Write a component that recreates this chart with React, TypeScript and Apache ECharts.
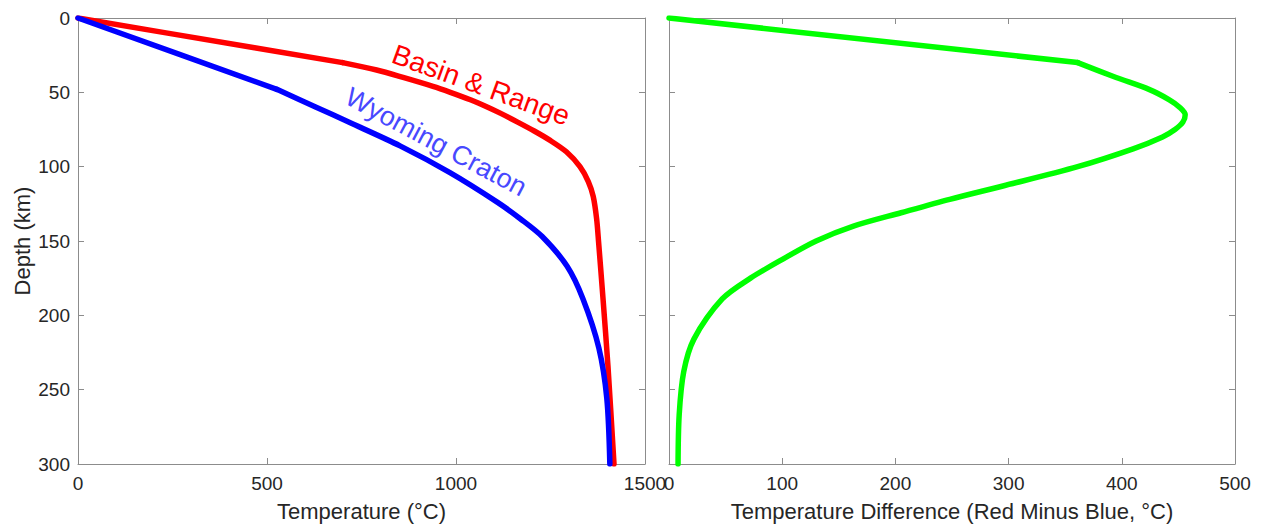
import React, { useEffect, useRef } from "react";
import * as echarts from "echarts";

// Basin & Range geotherm (red): depth (km), temperature (°C)
const redDepth = [0, 10, 20, 30, 35, 40, 46, 50, 55, 60, 64, 70, 76, 82, 90, 100, 110, 120, 135, 150, 189, 234, 300];
const redTemp = [0, 233, 467, 700, 790, 860, 939, 985, 1038, 1084, 1117, 1163, 1207, 1247, 1292, 1328, 1350, 1363, 1372, 1377, 1389, 1402, 1418];
const redKink = 30;

// Wyoming Craton geotherm (blue)
const blueDepth = [0, 24, 48, 60, 70, 86, 104, 124, 135, 147, 167, 189, 222, 256, 300];
const blueTemp = [0, 263, 526, 630, 716, 852, 984, 1110, 1170, 1228, 1294, 1336, 1378, 1399, 1407];
const blueKink = 48;

// Difference red minus blue (green)
const greenDepth = [0, 30, 40, 48, 55, 60, 65, 70, 75, 80, 88, 100, 113, 122, 131, 140, 150, 162, 175, 189, 216, 238, 267, 300];
const greenDiff = [0, 361, 395, 424, 442, 451, 456, 454, 447, 436, 410, 361, 295, 248, 205, 163, 130, 101, 72, 47, 22, 13, 9, 8];
const greenKink = 30;

const depthTicks = [0, 50, 100, 150, 200, 250, 300];
const tempTicks = [0, 500, 1000, 1500];
const diffTicks = [0, 100, 200, 300, 400, 500];

const FONT = "Liberation Sans, Arial, Helvetica, sans-serif";
const AXIS_COLOR = "#8c8c8c";
const TEXT_COLOR = "#262626";

function pairs(xs: number[], ys: number[]) {
  return xs.map((x, i) => [x, ys[i]]);
}

function segments(xs: number[], depths: number[], kink: number) {
  const k = depths.indexOf(kink);
  const all = pairs(xs, depths);
  return [all.slice(0, k + 1), all.slice(k)];
}

export default function App() {
  const ref = useRef<HTMLDivElement>(null);
  useEffect(() => {
    if (!ref.current) return;
    const chart = echarts.init(ref.current, undefined, { renderer: "svg" });

    const axisLine = { show: true, onZero: false, lineStyle: { color: AXIS_COLOR, width: 1 } };
    const axisTick = { show: true, inside: true, length: 6, lineStyle: { color: AXIS_COLOR } };
    const labelStyle = { color: TEXT_COLOR, fontSize: 19, fontFamily: FONT };
    const nameStyle = { color: TEXT_COLOR, fontSize: 22, fontFamily: FONT };

    const xAx = (grid: number, pos: "bottom" | "top", ticks: number[], showLabel: boolean, name?: string) => ({
      type: "value",
      gridIndex: grid,
      position: pos,
      min: ticks[0],
      max: ticks[ticks.length - 1],
      interval: ticks[1] - ticks[0],
      axisLine,
      axisTick,
      splitLine: { show: false },
      axisLabel: {
        show: showLabel,
        margin: 10,
        showMinLabel: true,
        showMaxLabel: true,
        formatter: (v: number) => String(v),
        ...labelStyle,
      },
      name: name || "",
      nameLocation: "middle",
      nameGap: 36,
      nameTextStyle: nameStyle,
    });
    const yAx = (grid: number, pos: "left" | "right", showLabel: boolean, name?: string) => ({
      type: "value",
      gridIndex: grid,
      position: pos,
      min: depthTicks[0],
      max: depthTicks[depthTicks.length - 1],
      interval: depthTicks[1] - depthTicks[0],
      inverse: true,
      axisLine,
      axisTick,
      splitLine: { show: false },
      axisLabel: {
        show: showLabel,
        margin: 8,
        showMinLabel: true,
        showMaxLabel: true,
        formatter: (v: number) => String(v),
        ...labelStyle,
      },
      name: name || "",
      nameLocation: "middle",
      nameRotate: 90,
      nameGap: 45,
      nameTextStyle: nameStyle,
    });

    const lineSeries = (data: number[][], color: string, xi: number, yi: number, smooth: boolean) => ({
      type: "line",
      xAxisIndex: xi,
      yAxisIndex: yi,
      data,
      showSymbol: false,
      smooth: smooth ? 0.3 : false,
      lineStyle: { color, width: 5.5, cap: "round", join: "round" },
      itemStyle: { color },
    });

    const [redA, redB] = segments(redTemp, redDepth, redKink);
    const [blueA, blueB] = segments(blueTemp, blueDepth, blueKink);
    const [greenA, greenB] = segments(greenDiff, greenDepth, greenKink);

    chart.setOption({
      animation: false,
      backgroundColor: "#ffffff",
      textStyle: { fontFamily: FONT },
      grid: [
        { left: 78, top: 18, width: 567, height: 448 },
        { left: 669, top: 18, width: 566, height: 448 },
      ],
      xAxis: [
        xAx(0, "bottom", tempTicks, true, "Temperature (°C)"),
        xAx(0, "top", tempTicks, false),
        xAx(1, "bottom", diffTicks, true, "Temperature Difference (Red Minus Blue, °C)"),
        xAx(1, "top", diffTicks, false),
      ],
      yAxis: [
        yAx(0, "left", true, "Depth (km)"),
        yAx(0, "right", false),
        yAx(1, "left", false),
        yAx(1, "right", false),
      ],
      series: [
        lineSeries(redA, "#ff0000", 0, 0, false),
        lineSeries(redB, "#ff0000", 0, 0, true),
        lineSeries(blueA, "#0000ff", 0, 0, false),
        lineSeries(blueB, "#0000ff", 0, 0, true),
        lineSeries(greenA, "#00ff00", 2, 2, false),
        lineSeries(greenB, "#00ff00", 2, 2, true),
      ],
      graphic: [
        {
          type: "text",
          x: 481,
          y: 85,
          rotation: (-20 * Math.PI) / 180,
          style: {
            text: "Basin & Range",
            x: 0,
            y: 0,
            align: "center",
            verticalAlign: "middle",
            fill: "#ff0000",
            fontSize: 28,
            fontFamily: FONT,
          },
        },
        {
          type: "text",
          x: 436,
          y: 142,
          rotation: (-28 * Math.PI) / 180,
          style: {
            text: "Wyoming Craton",
            x: 0,
            y: 0,
            align: "center",
            verticalAlign: "middle",
            fill: "#4848ff",
            fontSize: 27,
            fontFamily: FONT,
          },
        },
      ],
    });
    return () => chart.dispose();
  }, []);
  return (
    <div
      ref={ref}
      style={{ position: "fixed", left: 0, top: 0, width: 1263, height: 527, background: "#fff" }}
    />
  );
}
